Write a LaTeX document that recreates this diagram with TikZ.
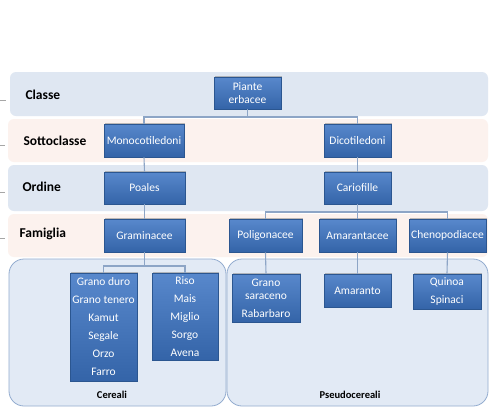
\documentclass[tikz,border=0pt]{standalone}
\usepackage{fontspec}
\setmainfont{Carlito}
\usetikzlibrary{shadows}
\definecolor{bandblue}{HTML}{DFE7F2}
\definecolor{bandpink}{HTML}{FCF2EE}
\definecolor{boxtop}{HTML}{5888CC}
\definecolor{boxbot}{HTML}{3464A8}
\definecolor{boxline}{HTML}{2B5690}
\definecolor{connc}{HTML}{8DA5C6}
\definecolor{grpfill}{HTML}{E2EAF5}
\definecolor{grpline}{HTML}{93ACCF}
\tikzset{
  x=1pt, y=-1pt,
  band/.style={rounded corners=6pt, draw=none},
  bandlabel/.style={anchor=west, font=\fontsize{13.5}{15}\selectfont\bfseries, text=black},
  tbox/.style={rectangle, draw=boxline, line width=0.6pt, top color=boxtop, bottom color=boxbot,
    text=white, font=\fontsize{11.5}{13}\selectfont, align=center, inner sep=1pt,
    drop shadow={shadow xshift=1.2pt, shadow yshift=1.5pt, opacity=0.5}},
  conn/.style={draw=connc, line width=1.1pt},
  grp/.style={rounded corners=15pt, fill=grpfill, draw=grpline, line width=0.8pt},
  grplabel/.style={font=\fontsize{10.5}{12}\selectfont\bfseries, text=black},
  tick/.style={draw=gray!70, line width=0.6pt}
}
\begin{document}
\begin{tikzpicture}
\useasboundingbox (0,0) rectangle (496,408);
\fill[white] (0,0) rectangle (496,408);
% bands
\fill[band, bandblue] (10,72) rectangle (488,116);
\fill[band, bandpink] (8,119) rectangle (488,162);
\fill[band, bandblue] (8,165) rectangle (488,211);
\fill[band, bandpink] (8,214) rectangle (488,257);
% ticks
\draw[tick] (0,100) -- (6,100);
\draw[tick] (0,145) -- (5,145);
\draw[tick] (0,192) -- (5,192);
\draw[tick] (0,238) -- (5,238);
% band labels
\node[bandlabel] (lclasse) at (22,95) {Classe};
\node[bandlabel] (lsotto) at (20,141) {Sottoclasse};
\node[bandlabel] (lordine) at (19,187) {Ordine};
\node[bandlabel] (lfam) at (16,234) {Famiglia};
% group boxes
\draw[grp] (9,259) rectangle (226,406);
\draw[grp] (227,259) rectangle (488,406);
\node[grplabel] (lcer) at (112,395) {Cereali};
\node[grplabel] (lpse) at (350,395) {Pseudocereali};
% coordinates for connectors
\coordinate (j1) at (247.5,117);
\coordinate (j2) at (357.5,212);
\coordinate (j3) at (144.5,266);
% nodes
\node[tbox, minimum width=67pt, minimum height=32pt] (piante) at (247.5,93) {Piante\\erbacee};
\node[tbox, minimum width=80pt, minimum height=33pt] (mono) at (144,140.5) {Monocotiledoni};
\node[tbox, minimum width=67pt, minimum height=33pt] (dico) at (357.5,140.5) {Dicotiledoni};
\node[tbox, minimum width=81pt, minimum height=32pt] (poales) at (144.5,188) {Poales};
\node[tbox, minimum width=67pt, minimum height=32pt] (cario) at (357.5,188) {Cariofille};
\node[tbox, minimum width=81pt, minimum height=33pt] (gram) at (144.5,235.5) {Graminacee};
\node[tbox, minimum width=73pt, minimum height=33pt] (poli) at (265.5,235.5) {Poligonacee};
\node[tbox, minimum width=77pt, minimum height=33pt] (amar) at (357.5,235.5) {Amarantacee};
\node[tbox, minimum width=77pt, minimum height=33pt] (cheno) at (447.5,235.5) {Chenopodiacee};
\node[tbox, minimum width=67pt, minimum height=108pt, font=\fontsize{11.5}{18}\selectfont] (cer1) at (103.5,327)
  {Grano duro\\Grano tenero\\Kamut\\Segale\\Orzo\\Farro};
\node[tbox, minimum width=66pt, minimum height=87pt, font=\fontsize{11.5}{18}\selectfont] (cer2) at (185,316.5)
  {Riso\\Mais\\Miglio\\Sorgo\\Avena};
\node[tbox, minimum width=68pt, minimum height=48pt] (ps1) at (266,298) {Grano\\saraceno\\[5pt]Rabarbaro};
\node[tbox, minimum width=67pt, minimum height=33pt] (ps2) at (357.5,290.5) {Amaranto};
\node[tbox, minimum width=68pt, minimum height=35pt, font=\fontsize{11.5}{18}\selectfont] (ps3) at (447,291.5) {Quinoa\\Spinaci};
% connectors
\draw[conn] (piante.south) -- (j1) -| (mono.north);
\draw[conn] (j1) -| (dico.north);
\draw[conn] (mono.south) -- (poales.north);
\draw[conn] (dico.south) -- (cario.north);
\draw[conn] (poales.south) -- (gram.north);
\draw[conn] (cario.south) -- (j2) -| (poli.north);
\draw[conn] (j2) -- (amar.north);
\draw[conn] (j2) -| (cheno.north);
\draw[conn] (gram.south) -- (j3) -| (cer1.north);
\draw[conn] (j3) -| (cer2.north);
\draw[conn] (poli.south) -- (ps1.north);
\draw[conn] (amar.south) -- (ps2.north);
\draw[conn] (cheno.south) -- (ps3.north);
\end{tikzpicture}
\end{document}
